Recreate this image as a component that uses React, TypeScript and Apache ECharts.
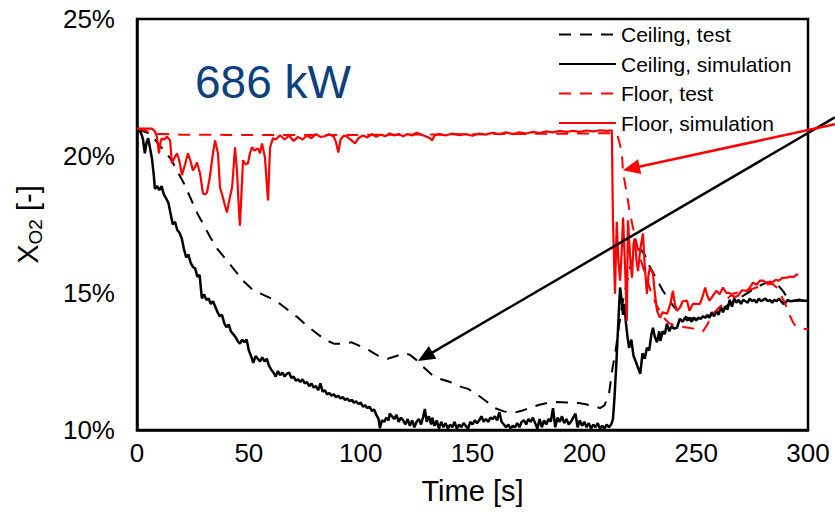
import React, { useEffect, useRef } from "react";
import * as echarts from "echarts";

const FONT = "Liberation Sans, Arial, sans-serif";

const seriesNames = ["Ceiling, test", "Ceiling, simulation", "Floor, test", "Floor, simulation"];
const xTicks = [0, 50, 100, 150, 200, 250, 300];
const yTicks = [10, 15, 20, 25];

const ceilingTest: number[][] = [
  [0, 20.95], [3, 20.9], [6, 20.8], [9, 20.5], [12, 20.2], [15, 19.9], [18, 19.45], [21, 19.0], [24, 18.45], [27, 17.9],
  [30, 17.45], [33, 17.0], [36, 16.6], [40, 16.2], [44, 15.8], [48, 15.4], [52, 15.1], [56, 14.95], [60, 14.8], [64, 14.6],
  [68, 14.35], [72, 14.1], [76, 13.8], [80, 13.55], [84, 13.3], [88, 13.15], [92, 13.15], [96, 13.2], [100, 13.05], [104, 12.9],
  [108, 12.7], [112, 12.6], [116, 12.7], [119, 12.8], [122, 12.75], [125, 12.55], [128, 12.3], [132, 12.0], [136, 11.85], [140, 11.75],
  [144, 11.6], [148, 11.5], [152, 11.3], [156, 11.06], [160, 10.8], [164, 10.68], [168, 10.62], [172, 10.7], [176, 10.82], [180, 10.92],
  [184, 11.0], [188, 11.02], [192, 11.0], [196, 11.0], [200, 10.95], [204, 10.88], [207, 10.8], [209, 10.9], [211, 11.3], [212.5, 12.2],
  [214, 12.9], [215.5, 13.8], [217, 14.6], [219, 15.4], [221, 16.1], [223, 16.5], [225, 16.6], [227, 16.4], [229, 16.0], [231, 15.7],
  [233, 15.4], [235, 15.1], [237, 14.85], [240, 14.5], [243, 14.25], [246, 14.1], [250, 14.05], [254, 14.1], [258, 14.25], [262, 14.45],
  [266, 14.65], [270, 14.85], [274, 15.05], [278, 15.25], [282, 15.4], [286, 15.35], [289, 15.05], [291, 14.8], [294, 14.72], [300, 14.72],
];

const ceilingSim: number[][] = [
  [0, 20.9], [1, 20.95], [2, 20.8], [2.7, 20.6], [3.5, 20.1], [4.3, 20.5], [5, 20.65], [5.8, 20.3], [6.7, 19.9], [7.5, 19.3],
  [8, 18.8], [9, 18.9], [10, 18.75], [11, 18.9], [12, 18.6], [13, 18.45], [14, 18.3], [15, 17.9], [16, 17.5], [17, 17.6],
  [18, 17.3], [19, 17.2], [20, 17.0], [21, 16.6], [22, 16.3], [23, 16.4], [24, 16.1], [25, 15.95], [26, 15.9], [27, 15.6],
  [28, 15.65], [29, 14.8], [30, 14.95], [31, 14.75], [32, 14.8], [33, 14.6], [34, 14.7], [35, 14.5], [36, 14.3], [37, 14.15],
  [38, 14.2], [39, 13.9], [40, 13.75], [41, 13.85], [42, 13.6], [43, 13.5], [44, 13.4], [45, 13.25], [46, 13.15], [47, 13.3],
  [48, 13.2], [49, 13.3], [50, 12.9], [51, 12.7], [52, 12.45], [53, 12.7], [54, 12.6], [55, 12.5], [56, 12.65], [57, 12.5],
  [58, 12.6], [59, 12.35], [60, 12.2], [61, 12.1], [62, 11.95], [63, 12.15], [64, 12.0], [65, 12.1], [66, 11.95], [67, 12.05],
  [68, 12.1], [69, 11.9], [70, 11.95], [71, 11.8], [72, 11.85], [73, 11.75], [74, 11.85], [75, 11.7], [76, 11.75], [77, 11.6],
  [78, 11.7], [79, 11.55], [80, 11.6], [81, 11.45], [82, 11.7], [83, 11.4], [84, 11.45], [85, 11.3], [86, 11.35], [87, 11.25],
  [88, 11.3], [89, 11.2], [90, 11.25], [91, 11.15], [92, 11.2], [93, 11.1], [94, 11.15], [95, 11.05], [96, 11.1], [97, 11.0],
  [98, 11.05], [99, 10.95], [100, 11.0], [101, 10.85], [102, 10.9], [103, 10.8], [104, 10.85], [105, 10.7], [106, 10.75], [107, 10.55],
  [108, 10.4], [108.6, 10.07], [109.5, 10.35], [110.5, 10.3], [111.5, 10.45], [112.5, 10.35], [113, 10.6], [114, 10.5], [115, 10.4], [116, 10.55],
  [117, 10.3], [118, 10.45], [119, 10.35], [120, 10.2], [121, 10.4], [122, 10.15], [123, 10.35], [124, 10.1], [125, 10.3], [126, 10.4],
  [127, 10.2], [128, 10.5], [128.7, 10.77], [129.5, 10.3], [130.5, 10.5], [131.5, 10.2], [132, 10.45], [133, 10.15], [134, 10.35], [135, 10.05],
  [136, 10.3], [137, 10.1], [138, 10.25], [139, 10.05], [140, 10.2], [141, 10.1], [142, 10.3], [143, 10.05], [144, 10.2], [145, 10.1],
  [146, 10.25], [147, 10.15], [148, 10.05], [149, 10.3], [150, 10.2], [151, 10.35], [152, 10.25], [153, 10.35], [154, 10.5], [155, 10.3],
  [156, 10.4], [157, 10.3], [158, 10.45], [159, 10.4], [160, 10.5], [161, 10.35], [162, 10.65], [163, 10.3], [164, 10.2], [165, 10.1],
  [166, 10.2], [167, 10.05], [168, 10.15], [169, 10.1], [170, 10.25], [171, 10.1], [172, 10.3], [173, 10.35], [174, 10.2], [175, 10.4],
  [176, 10.3], [177, 10.45], [178, 10.25], [179, 10.05], [180, 10.4], [181, 10.1], [182, 10.35], [183, 10.2], [184, 10.4], [185, 10.3],
  [186, 10.8], [187, 10.1], [188, 10.45], [189, 10.3], [190, 10.5], [191, 10.25], [192, 10.4], [193, 10.2], [194, 10.3], [195, 10.45],
  [196, 10.6], [197, 10.1], [198, 10.35], [199, 10.15], [200, 10.3], [201, 10.1], [202, 10.25], [203, 10.05], [204, 10.2], [205, 10.1],
  [206, 10.25], [207, 10.05], [208, 10.15], [209, 10.05], [210, 10.2], [211, 10.1], [212, 10.2], [212.8, 10.4], [213.5, 11.2], [214.3, 12.4],
  [215, 13.6], [215.6, 14.6], [216, 15.2], [216.6, 14.8], [217.3, 14.2], [218, 14.6], [218.6, 13.9], [219.3, 13.4], [220, 13.0], [221, 13.3],
  [222, 12.7], [223, 12.5], [224, 12.27], [225, 12.05], [226, 12.8], [227, 12.6], [228, 13.0], [229, 12.9], [230, 13.5], [230.7, 13.73],
  [231.5, 13.4], [232.5, 13.2], [233.5, 13.6], [234, 13.25], [235, 13.6], [236, 13.5], [236.9, 13.88], [238, 13.6], [239, 13.8], [240, 13.7],
  [241.4, 13.73], [242.7, 14.06], [244, 13.95], [245, 14.1], [246, 14.0], [247, 14.06], [248, 13.95], [249, 14.1], [250, 14.0], [251, 14.1],
  [252, 14.05], [253, 14.15], [254, 14.1], [255, 14.2], [256, 14.1], [257, 14.3], [258, 14.15], [259, 14.35], [260, 14.2], [261, 14.5],
  [262, 14.3], [263, 14.5], [264, 14.4], [265, 14.75], [266, 14.5], [267, 14.8], [268, 14.65], [269, 14.75], [270, 14.6], [271, 14.75],
  [272, 14.7], [273, 14.65], [274, 14.8], [275, 14.7], [276, 14.75], [277, 14.65], [278, 14.8], [279, 14.7], [280, 14.75], [281, 14.8],
  [282, 14.7], [283, 14.75], [284, 14.65], [285, 14.75], [286, 14.7], [287, 14.8], [288, 14.7], [289, 14.6], [290, 14.65], [291, 14.75],
  [292, 14.7], [294, 14.72], [296, 14.75], [298, 14.72], [300, 14.72],
];

const floorTest: number[][] = [
  [0, 21.0], [3, 20.95], [6, 20.85], [9, 20.8], [12, 20.8], [20, 20.78], [40, 20.77], [60, 20.77], [80, 20.77], [100, 20.77],
  [120, 20.78], [140, 20.79], [160, 20.8], [180, 20.81], [200, 20.82], [210, 20.83], [213, 20.83], [214.6, 20.8], [216, 20.4], [216.8, 20.1],
  [217.3, 19.4], [219, 18.63], [220.4, 17.9], [222, 17.3], [224, 16.6], [226, 16.0], [228, 15.5], [230, 15.0], [232, 14.6], [234, 14.3],
  [236, 14.05], [238, 13.9], [241, 13.8], [245, 13.75], [249, 13.7], [253, 13.6], [255, 13.85], [257.5, 14.24], [260, 14.45], [262, 14.6],
  [264, 14.8], [266.4, 14.97], [269, 15.03], [272.7, 15.08], [277, 15.2], [281, 15.3], [284, 15.34], [286, 15.2], [287.5, 14.97], [289, 14.75],
  [290.6, 14.46], [292, 14.15], [293.5, 13.9], [295, 13.75], [297, 13.7], [300, 13.68],
];

const floorSim: number[][] = [
  [0, 21.0], [3, 21.0], [6.7, 21.0], [8, 20.9], [8.9, 20.7], [9.8, 20.1], [10.5, 20.5], [11, 20.64], [12, 20.6], [13.4, 20.7],
  [14.8, 20.57], [15.6, 19.73], [16.5, 19.9], [17.9, 20.1], [19, 19.8], [20.1, 19.3], [21.5, 19.7], [22.8, 20.1], [24, 19.8], [25, 19.47],
  [26, 19.6], [26.8, 19.77], [28.2, 19.36], [29.5, 18.63], [30.5, 18.6], [31.3, 18.67], [32.5, 19.2], [33.8, 20.0], [34.9, 20.57], [36.2, 20.1],
  [37.1, 18.85], [38.4, 18.49], [39.3, 18.2], [40.2, 17.94], [41.3, 18.4], [42.5, 18.85], [43.2, 19.6], [43.8, 20.32], [44.7, 19.47], [45.4, 18.3],
  [46, 17.46], [46.8, 18.8], [47.4, 19.84], [48.5, 19.7], [49.6, 19.73], [50.5, 20.1], [51.4, 20.32], [52.5, 20.2], [54, 20.28], [55, 20.1],
  [55.9, 20.46], [57.2, 19.95], [58, 19.0], [58.6, 18.38], [59.1, 19.5], [59.5, 20.32], [60.8, 20.65], [62, 20.6], [64, 20.76], [66, 20.6],
  [68, 20.75], [70, 20.55], [72, 20.7], [74, 20.6], [76, 20.75], [78, 20.65], [80, 20.8], [82, 20.7], [84, 20.72], [86, 20.8],
  [88, 20.7], [89, 20.5], [90, 20.13], [91, 20.6], [92.5, 20.75], [94, 20.7], [95.5, 20.6], [97.5, 20.46], [99, 20.65], [101, 20.75],
  [103, 20.68], [105, 20.8], [107, 20.7], [109, 20.78], [111, 20.72], [113, 20.82], [115, 20.75], [117, 20.8], [119, 20.72], [121, 20.8],
  [123, 20.75], [125, 20.85], [127, 20.78], [129, 20.72], [131, 20.65], [132, 20.57], [133, 20.75], [135, 20.8], [138, 20.75], [141, 20.82],
  [144, 20.76], [147, 20.8], [150, 20.74], [153, 20.82], [156, 20.78], [159, 20.85], [162, 20.8], [165, 20.86], [168, 20.8], [171, 20.86],
  [174, 20.82], [177, 20.88], [180, 20.84], [183, 20.9], [186, 20.86], [189, 20.92], [192, 20.88], [195, 20.92], [198, 20.88], [201, 20.93],
  [204, 20.9], [207, 20.94], [210, 20.92], [212.3, 20.94], [212.8, 17.65], [213.7, 14.97], [214.5, 17.6], [215.2, 16.2], [216, 15.45], [216.7, 16.5],
  [217.3, 17.75], [218.2, 16.0], [219, 13.98], [219.5, 17.65], [220.4, 16.4], [221.3, 15.56], [222, 16.8], [222.6, 17.0], [223.3, 16.2], [224, 15.8],
  [225, 16.6], [226.2, 17.17], [227, 16.0], [228, 14.97], [228.6, 15.6], [229.3, 15.93], [230.7, 15.7], [231.5, 15.0], [232.5, 14.35], [233.8, 14.1],
  [235, 14.3], [237, 14.24], [238.5, 14.6], [239.6, 15.08], [240.5, 14.6], [241.4, 14.35], [242.7, 14.46], [244, 14.7], [245.9, 14.72], [247, 14.35],
  [248.5, 14.6], [250.3, 14.6], [251.7, 14.6], [253, 14.9], [254, 15.2], [255, 14.9], [256, 14.72], [257.5, 14.9], [259, 15.08], [260.5, 14.95],
  [262, 15.2], [263.5, 15.0], [265, 15.0], [267, 14.85], [268.7, 14.9], [270.5, 15.1], [272.7, 15.08], [274, 15.2], [275.4, 15.38], [277, 15.3],
  [278.5, 15.45], [280, 15.45], [281.5, 15.35], [283, 15.42], [284, 15.38], [285.5, 15.48], [287, 15.45], [288.5, 15.55], [290.6, 15.56], [292, 15.6],
  [293.5, 15.58], [295.5, 15.7],
];

// Annotation arrows (data coordinates: from -> tip)
const blackArrow = { from: [312, 21.41], to: [125.6, 12.52], color: "#000000" };
const redArrow = { from: [312, 21.16], to: [217.3, 19.48], color: "#ff0000" };
const annotationText = "686 kW";

export default function App() {
  const ref = useRef<HTMLDivElement>(null);
  useEffect(() => {
    document.body.style.margin = "0";
    const chart = echarts.init(ref.current!, null, { renderer: "svg" });
    const mk = (name: string, data: number[][], color: string, width: number, dashed: boolean) => ({
      name,
      type: "line",
      data,
      symbol: "none",
      showSymbol: false,
      clip: true,
      lineStyle: { color, width, type: dashed ? [12, 9] : "solid" },
      itemStyle: { color },
    });
    chart.setOption({
      animation: false,
      backgroundColor: "#ffffff",
      textStyle: { fontFamily: FONT },
      grid: { left: 137, right: 27, top: 19, bottom: 82, show: true, borderColor: "#000", borderWidth: 2.5, backgroundColor: "transparent" },
      legend: {
        data: seriesNames,
        orient: "vertical",
        left: 558,
        top: 24,
        padding: 0,
        itemWidth: 57,
        itemHeight: 14,
        itemGap: 8.5,
        itemStyle: { opacity: 0 },
        textStyle: { fontSize: 21, color: "#000", fontFamily: FONT },
      },
      xAxis: {
        type: "value",
        min: xTicks[0],
        max: xTicks[xTicks.length - 1],
        interval: 50,
        name: "Time [s]",
        nameLocation: "middle",
        nameGap: 46,
        nameTextStyle: { fontSize: 29, color: "#000", fontFamily: FONT },
        axisLine: { show: true, lineStyle: { color: "#000", width: 2.5 } },
        axisTick: { show: false },
        splitLine: { show: false },
        axisLabel: { fontSize: 26, color: "#000", margin: 10, fontFamily: FONT },
      },
      yAxis: {
        type: "value",
        min: yTicks[0],
        max: yTicks[yTicks.length - 1],
        interval: 5,
        name: "{a|X}{b|O2}{a| [-]}",
        nameLocation: "middle",
        nameRotate: 90,
        nameGap: 92,
        nameTextStyle: {
          color: "#000",
          fontFamily: FONT,
          rich: {
            a: { fontSize: 29, color: "#000", fontFamily: FONT, lineHeight: 34, verticalAlign: "middle" },
            b: { fontSize: 19, color: "#000", fontFamily: FONT, lineHeight: 34, verticalAlign: "bottom", padding: [12, 0, 0, 0] },
          },
        },
        axisLine: { show: true, lineStyle: { color: "#000", width: 2.5 } },
        axisTick: { show: false },
        splitLine: { show: false },
        axisLabel: { fontSize: 26, color: "#000", margin: 22, fontFamily: FONT, formatter: "{value}%" },
      },
      series: [
        mk(seriesNames[0], ceilingTest, "#000000", 2, true),
        mk(seriesNames[1], ceilingSim, "#000000", 2.5, false),
        mk(seriesNames[2], floorTest, "#ff0000", 2, true),
        mk(seriesNames[3], floorSim, "#ff0000", 2.2, false),
      ],
    });

    const arrowGraphic = (a: { from: number[]; to: number[]; color: string }) => {
      const p0 = chart.convertToPixel({ gridIndex: 0 }, a.from) as number[];
      const p1 = chart.convertToPixel({ gridIndex: 0 }, a.to) as number[];
      const dx = p1[0] - p0[0];
      const dy = p1[1] - p0[1];
      const len = Math.sqrt(dx * dx + dy * dy);
      const ux = dx / len;
      const uy = dy / len;
      const headLen = 17;
      const headW = 7.5;
      const bx = p1[0] - ux * headLen;
      const by = p1[1] - uy * headLen;
      return [
        { type: "line", shape: { x1: p0[0], y1: p0[1], x2: bx + ux * 2, y2: by + uy * 2 }, style: { stroke: a.color, lineWidth: 2.5 }, z: 100 },
        {
          type: "polygon",
          shape: { points: [[p1[0], p1[1]], [bx - uy * headW, by + ux * headW], [bx + uy * headW, by - ux * headW]] },
          style: { fill: a.color },
          z: 100,
        },
      ];
    };

    chart.setOption({
      graphic: [
        ...arrowGraphic(blackArrow),
        ...arrowGraphic(redArrow),
        {
          type: "text",
          x: 195,
          y: 82,
          z: 100,
          style: { text: annotationText, font: `46px ${FONT}`, fill: "#0E3F7E", verticalAlign: "middle", align: "left" },
        },
      ],
    });
    return () => chart.dispose();
  }, []);
  return <div ref={ref} style={{ width: 835, height: 512 }} />;
}
